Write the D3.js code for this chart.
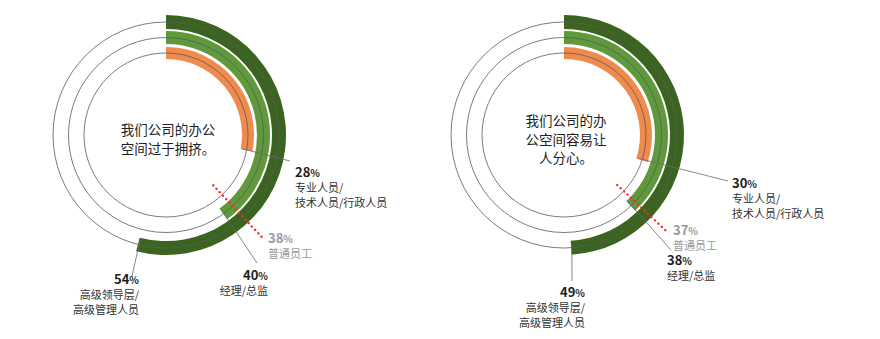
<!DOCTYPE html>
<html>
<head>
<meta charset="utf-8">
<script src="https://cdn.jsdelivr.net/npm/d3@7"></script>
<style>
  body { margin: 0; background: #fff; }
  svg text { font-family: "Noto Sans CJK SC", "Noto Sans", sans-serif; }
</style>
</head>
<body>
<div id="chart"></div>
<script>
// data
const groups = ['专业人员/技术人员/行政人员', '经理/总监', '高级领导层/高级管理人员', '普通员工'];
const groupLines = [['专业人员/', '技术人员/行政人员'], ['经理/总监'], ['高级领导层/', '高级管理人员'], ['普通员工']];
const questions = [['我们公司的办公', '空间过于拥挤。'], ['我们公司的办', '公空间容易让', '人分心。']];
const crowdedValues = [28, 40, 54, 38];
const distractedValues = [30, 38, 49, 37];
const seriesValues = [crowdedValues, distractedValues];

const width = 880, height = 339;
const colors = ['#ef8b4d', '#5f993b', '#3b6421'];
// ring bands for the first three groups, inner to outer
const bands = [[76, 88], [91, 104], [106, 120]];

const angle = d3.scaleLinear().domain([0, 100]).range([0, 2 * Math.PI]);

const svg = d3.select('#chart').append('svg')
    .attr('width', width)
    .attr('height', height);

// label layout for each chart: leader end and text anchor
const layouts = [
  {
    cx: 166, cy: 135,
    labels: [
      { from: 78, to: [290, 161], x: 295, y: 177, anchor: 'start' },
      { from: 93, to: [257, 263], x: 268, y: 280, anchor: 'end' },
      { from: 108, to: [132, 276], x: 139, y: 284, anchor: 'end' },
      { from: 69, to: 142, x: 268, y: 243, anchor: 'start' }
    ]
  },
  {
    cx: 564, cy: 135,
    labels: [
      { from: 78, to: [728, 181], x: 732, y: 188, anchor: 'start' },
      { from: 93, to: [671, 250], x: 667, y: 265, anchor: 'start' },
      { from: 108, to: [572, 281], x: 585, y: 297, anchor: 'end' },
      { from: 73, to: 142, x: 673, y: 235, anchor: 'start' }
    ]
  }
];

function point(cx, cy, r, a) {
  return [cx + r * Math.sin(a), cy - r * Math.cos(a)];
}

seriesValues.forEach((values, ci) => {
  const lay = layouts[ci];
  const g = svg.append('g').attr('transform', `translate(${lay.cx},${lay.cy})`);

  // arcs
  bands.forEach((b, i) => {
    g.append('path')
        .attr('fill', colors[i])
        .attr('d', d3.arc()({
          innerRadius: b[0], outerRadius: b[1],
          startAngle: 0, endAngle: angle(values[i])
        }));
  });

  // thin circles through the bands
  bands.forEach(b => {
    g.append('circle')
        .attr('r', (b[0] + b[1]) / 2)
        .attr('fill', 'none')
        .attr('stroke', '#5a5a5a')
        .attr('stroke-width', 0.8);
  });

  // leader lines
  lay.labels.forEach((l, i) => {
    const a = angle(values[i]);
    if (i === 3) {
      const p0 = point(0, 0, l.from, a), p1 = point(0, 0, l.to, a);
      g.append('line')
          .attr('x1', p0[0]).attr('y1', p0[1])
          .attr('x2', p1[0]).attr('y2', p1[1])
          .attr('stroke', '#ff2a2a')
          .attr('stroke-width', 2.4)
          .attr('stroke-linecap', 'round')
          .attr('stroke-dasharray', '0.1,4.6');
    } else {
      const p0 = point(lay.cx, lay.cy, l.from, a - 0.01);
      svg.append('line')
          .attr('x1', p0[0]).attr('y1', p0[1])
          .attr('x2', l.to[0]).attr('y2', l.to[1])
          .attr('stroke', '#6a6a6a')
          .attr('stroke-width', 0.8);
    }
  });

  // labels
  lay.labels.forEach((l, i) => {
    const muted = i === 3;
    const t = svg.append('text')
        .attr('text-anchor', l.anchor)
        .attr('x', l.x).attr('y', l.y);
    t.append('tspan')
        .attr('font-size', 13)
        .attr('font-weight', 700)
        .attr('fill', muted ? '#9a9a9a' : '#1e1e1e')
        .text(values[i]);
    t.append('tspan')
        .attr('font-size', 10)
        .attr('font-weight', 700)
        .attr('fill', muted ? '#9a9a9a' : '#1e1e1e')
        .text('%');
    groupLines[i].forEach((s, k) => {
      svg.append('text')
          .attr('text-anchor', l.anchor)
          .attr('x', l.x)
          .attr('y', l.y + 15 + k * 14.5)
          .attr('font-size', 11)
          .attr('fill', muted ? '#9a9a9a' : '#333')
          .text(s);
    });
  });

  // question in the middle
  const q = questions[ci];
  const top = ci === 0 ? 135 : 126;
  q.forEach((s, k) => {
    g.append('text')
        .attr('text-anchor', 'middle')
        .attr('x', 2)
        .attr('y', top - lay.cy + k * 18.5)
        .attr('font-size', 13.5)
        .attr('fill', '#222')
        .text(s);
  });
});
</script>
</body>
</html>
